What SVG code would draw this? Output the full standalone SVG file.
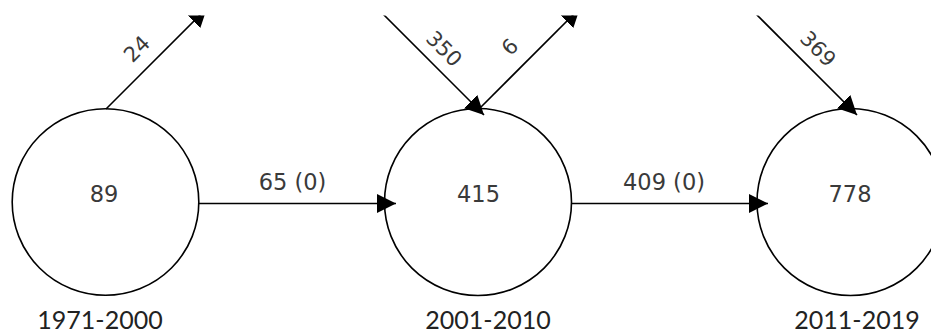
<svg xmlns="http://www.w3.org/2000/svg" width="931" height="333" viewBox="0 0 931 333">
<style>
.node circle{fill:#fff;stroke:#000;stroke-width:1.6}
.num{font-family:"DejaVu Sans",Verdana,sans-serif;font-size:22.5px;fill:#3a3a3a;text-anchor:middle}
.dl{font-family:"DejaVu Sans",Verdana,sans-serif;font-size:21px;fill:#3a3a3a;text-anchor:middle;dominant-baseline:central}
.yr{font-family:Lato,"Liberation Sans",sans-serif;font-size:25px;fill:#222;text-anchor:middle}
.edge{stroke:#000;stroke-width:1.6;fill:none;marker-end:url(#arr)}
</style>
<defs>
<marker id="arr" viewBox="0 0 19 19" refX="19" refY="9.5" markerWidth="19" markerHeight="19" markerUnits="userSpaceOnUse" orient="auto">
<path d="M0,0 L19,9.5 L0,19 z" fill="#000"/>
</marker>
<clipPath id="top"><rect x="0" y="15.5" width="931" height="318"/></clipPath>
</defs>
<rect width="931" height="333" fill="#fff"/>
<g id="n1" class="node">
<circle cx="105.5" cy="202" r="93.3"/>
<text class="num" x="104" y="202">89</text>
<text class="yr" x="100" y="329">1971-2000</text>
</g>
<g id="n2" class="node">
<circle cx="478" cy="202" r="93.5"/>
<text class="num" x="478.5" y="202">415</text>
<text class="yr" x="488" y="329">2001-2010</text>
</g>
<g id="n3" class="node">
<circle cx="850.5" cy="202" r="93.5"/>
<text class="num" x="850" y="202">778</text>
<text class="yr" x="857" y="329">2011-2019</text>
</g>
<g id="connectors">
<g clip-path="url(#top)">
<line class="edge" x1="199" y1="203.5" x2="396" y2="203.5"/>
<line class="edge" x1="572" y1="203.5" x2="768" y2="203.5"/>
<line class="edge" x1="106" y1="109" x2="207" y2="8"/>
<line class="edge" x1="479" y1="109" x2="580" y2="8"/>
<line class="edge" x1="378" y1="9" x2="484" y2="115"/>
<line class="edge" x1="751" y1="9" x2="857" y2="115"/>
</g>
<text class="num" x="292.5" y="190">65 (0)</text>
<text class="num" x="664" y="190">409 (0)</text>
<text class="dl" transform="translate(137 49) rotate(-45)">24</text>
<text class="dl" transform="translate(444 49) rotate(45)">350</text>
<text class="dl" transform="translate(510 47) rotate(-45)">6</text>
<text class="dl" transform="translate(818 49) rotate(45)">369</text>
</g>
</svg>
